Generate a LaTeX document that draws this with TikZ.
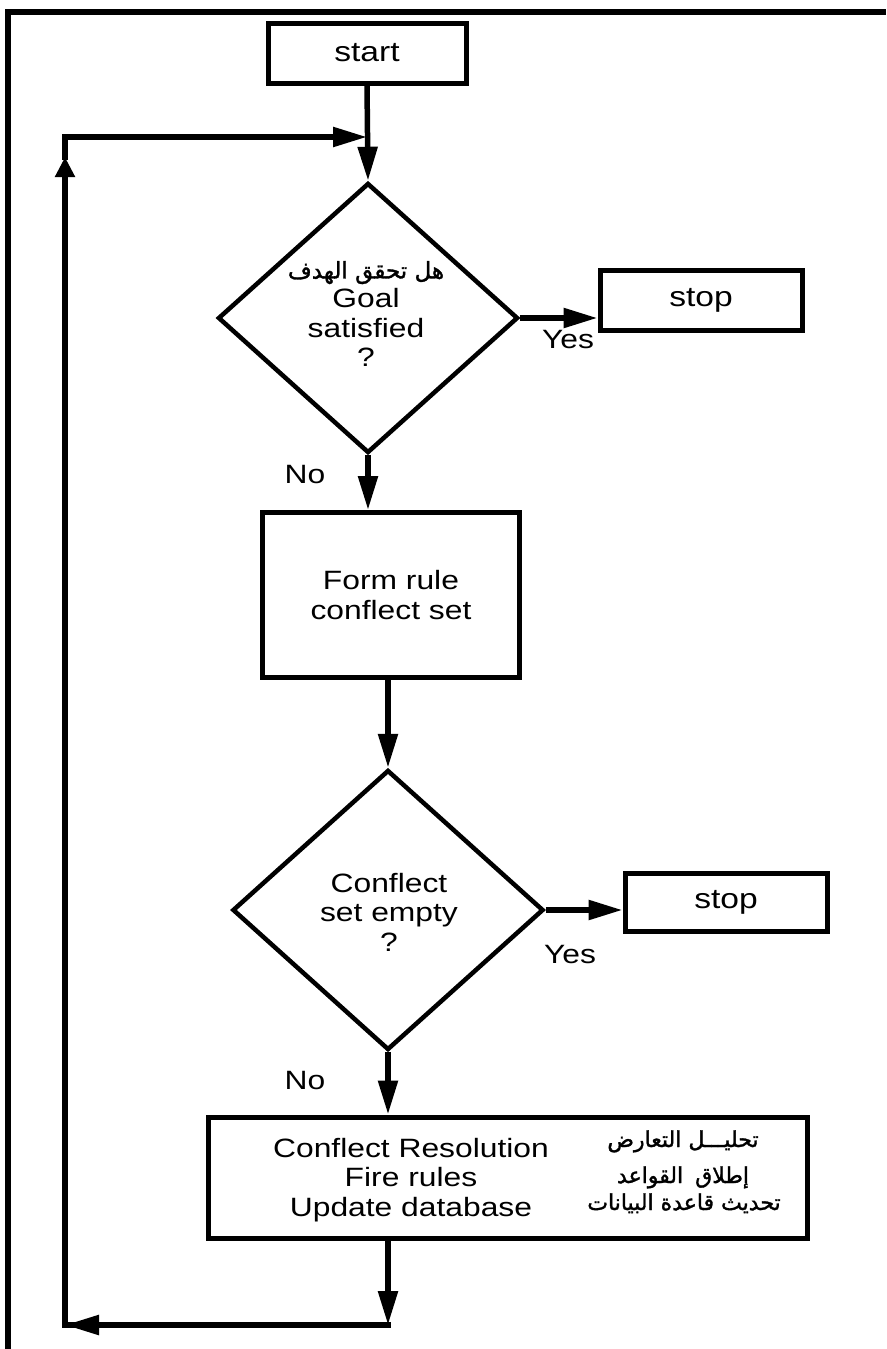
\documentclass[tikz,border=0pt]{standalone}
\usepackage{fontspec}
\setmainfont[FakeStretch=1.2]{Liberation Sans}
\newfontfamily\arabicfont[Script=Arabic,FakeBold=1.5]{DejaVu Sans}
\TeXXeTstate=1
\usetikzlibrary{arrows.meta,shapes.geometric}
\begin{document}
\begin{tikzpicture}[x=1pt,y=-1pt,
  every node/.style={font=\fontsize{26.5}{29.5}\selectfont, inner sep=0pt},
  big/.style={font=\fontsize{28}{30}\selectfont},
  boxnode/.style={draw, line width=5pt, rectangle, align=center},
  dia/.style={draw, diamond, line width=4.5pt, minimum width=300pt, minimum height=270pt},
  conn/.style={line width=5.5pt, line cap=rect},
  arr/.style={line width=5.5pt, -{Triangle[length=34pt,width=19pt]}},
  uparr/.style={line width=5.5pt, -{Triangle[length=20pt,width=19pt]}},
  ar/.style={anchor=base, font=\arabicfont\fontsize{22}{26}\selectfont}
]
\useasboundingbox (0,0) rectangle (886,1349);
\draw[line width=5.5pt] (8,1349) -- (8,12) -- (886,12);

\node[boxnode, big, minimum width=198pt, minimum height=60pt] (start) at (367,53) {start};
\node[dia] (d1) at (368,318) {};
\node[align=center] (d1t) at (366,314) {{\arabicfont\fontsize{23}{26}\selectfont\beginR هل تحقق الهدف\endR}\\Goal\\satisfied\\?};
\node[boxnode, big, minimum width=202pt, minimum height=60pt] (stop1) at (701,300) {stop};
\node[boxnode, minimum width=257pt, minimum height=165pt] (form) at (391,595) {Form rule\\conflect set};
\node[dia, minimum width=311pt, minimum height=280pt] (d2) at (388,910) {};
\node[align=center] (d2t) at (389,912) {Conflect\\set empty\\?};
\node[boxnode, big, minimum width=202pt, minimum height=58pt] (stop2) at (726,902) {stop};
\node[boxnode, minimum width=599pt, minimum height=121pt] (act) at (507.5,1177.5) {};
\node[align=center] (acten) at (411,1180) {Conflect Resolution\\Fire rules\\Update database};
\node[ar] (ar1) at (683,1147) {\beginR تحليـــل التعارض\endR};
\node[ar] (ar2) at (683,1183) {\beginR إطلاق\hspace{12pt}القواعد\endR};
\node[ar] (ar3) at (684,1210) {\beginR تحديث قاعدة البيانات\endR};

\node (yes1) at (568,340) {Yes};
\node (no1) at (305,475) {No};
\node (yes2) at (570,955) {Yes};
\node (no2) at (305,1080) {No};

\coordinate (j) at (367,137);
\coordinate (c1) at (388,1325);
\coordinate (c2) at (65,1325);
\coordinate (c3) at (65,157);
\coordinate (c4) at (65,137);

\draw[arr] (start.south) -- (d1.north);
\draw[arr] (d1.east) -- (d1.east -| stop1.west);
\draw[arr] (d1.south) -- (d1.south |- form.north);
\draw[arr] (d2.north |- form.south) -- (d2.north);
\draw[arr] (d2.east) -- (d2.east -| stop2.west);
\draw[arr] (d2.south) -- (d2.south |- act.north);
\draw[arr] (c1 |- act.south) -- (c1);
\draw[conn] (c1) -- (c2);
\draw[arr] (c1) -- (c2);
\draw[uparr] (c2) -- (c3);
\draw[conn] (c3) -- (c4);
\draw[arr] (c4) -- (j);
\end{tikzpicture}
\end{document}
